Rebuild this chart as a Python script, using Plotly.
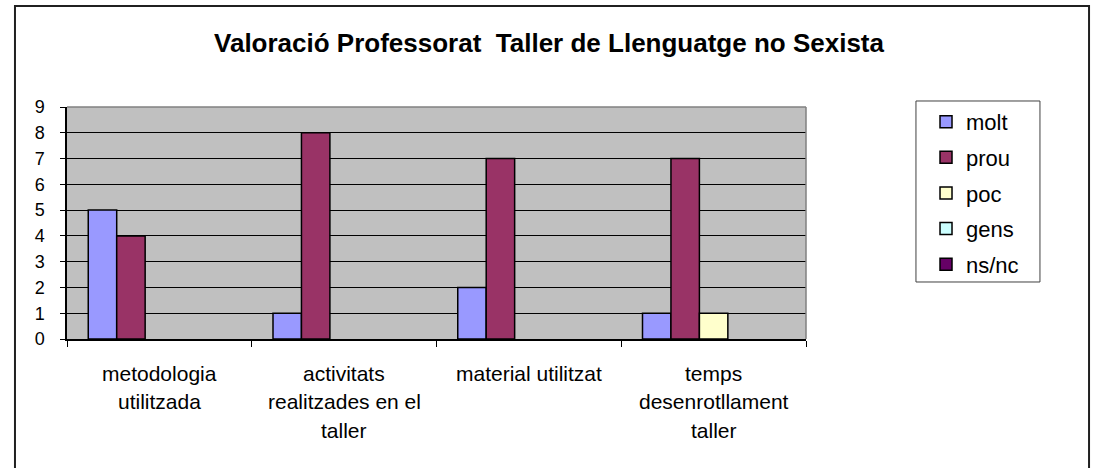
import plotly.graph_objects as go

# chart data
categories = ["metodologia utilitzada", "activitats realitzades en el taller",
              "material utilitzat", "temps desenrotllament taller"]
category_lines = [["metodologia", "utilitzada"],
                  ["activitats", "realitzades en el", "taller"],
                  ["material utilitzat"],
                  ["temps", "desenrotllament", "taller"]]
series_names = ["molt", "prou", "poc", "gens", "ns/nc"]
molt = [5, 1, 2, 1]
prou = [4, 8, 7, 7]
poc = [0, 0, 0, 1]
gens = [0, 0, 0, 0]
ns_nc = [0, 0, 0, 0]
series_values = [molt, prou, poc, gens, ns_nc]
series_colors = ["#9999FF", "#993366", "#FFFFCC", "#CCFFFF", "#660066"]
y_ticks = list(range(0, 10))

FONT = "Liberation Sans, Arial, sans-serif"

fig = go.Figure()

for name, vals, color in zip(series_names, series_values, series_colors):
    # bars: no outline on empty bars, like Excel
    fig.add_trace(go.Bar(
        x=categories,
        y=vals,
        name=name,
        legendgroup=name,
        offsetgroup=name,
        showlegend=False,
        marker=dict(color=color,
                    line=dict(color="black", width=[1.5 if v else 0 for v in vals])),
    ))
    # legend entry with the outlined swatch
    fig.add_trace(go.Bar(
        x=[categories[0]],
        y=[None],
        name=name,
        legendgroup=name,
        offsetgroup=name,
        hoverinfo="skip",
        marker=dict(color=color, line=dict(color="black", width=1.5)),
    ))

# category labels, one line at a time (Excel-like line spacing)
for cat, lines in zip(categories, category_lines):
    for k, line in enumerate(lines):
        fig.add_annotation(
            x=cat, xref="x", y=0, yref="paper",
            text=line, showarrow=False,
            yanchor="middle", xanchor="center",
            yshift=-34 - k * 28.5,
            font=dict(family=FONT, size=21, color="black"),
        )

# plot area top/right border (grey)
fig.add_shape(type="line", xref="paper", yref="paper", x0=0, x1=1, y0=1, y1=1,
              line=dict(color="#808080", width=1.5))
fig.add_shape(type="line", xref="paper", yref="paper", x0=1, x1=1, y0=0, y1=1,
              line=dict(color="#808080", width=1.5))
# legend box
fig.add_shape(type="rect", xref="paper", yref="paper",
              x0=1.1488, x1=1.3166, y0=0.2457, y1=1.0259,
              line=dict(color="#404040", width=1))
# outer chart frame
fig.add_shape(type="rect", xref="paper", yref="paper",
              x0=-0.0704, x1=1.383, y0=-0.65, y1=1.435,
              line=dict(color="#202020", width=2))

fig.update_layout(
    title=dict(
        text="<b>Valoració Professorat  Taller de Llenguatge no Sexista</b>",
        x=549 / 1097, xref="container", xanchor="center",
        y=1 - 43 / 468, yref="container", yanchor="middle",
        font=dict(family=FONT, size=26, color="black"),
    ),
    width=1097,
    height=468,
    margin=dict(l=67, r=291, t=107, b=129),
    paper_bgcolor="white",
    plot_bgcolor="#C0C0C0",
    barmode="group",
    bargap=0.23,
    bargroupgap=0,
    font=dict(family=FONT, size=18, color="black"),
    legend=dict(
        x=1.1624, xanchor="left", y=1.026, yanchor="top",
        borderwidth=0, bgcolor="rgba(0,0,0,0)",
        font=dict(family=FONT, size=22, color="black"),
        tracegroupgap=4,
        itemwidth=30,
    ),
    showlegend=True,
)

fig.update_xaxes(
    showticklabels=False,
    showline=True, linecolor="black", linewidth=1.5,
    ticks="outside", tickson="boundaries", ticklen=6, tickcolor="black", tickwidth=1,
    showgrid=False,
)
fig.update_yaxes(
    range=[0, 9],
    tickvals=y_ticks,
    showline=True, linecolor="black", linewidth=1.5,
    ticks="outside", ticklen=5, tickcolor="black", tickwidth=1,
    ticklabelstandoff=12,
    showgrid=True, gridcolor="black", gridwidth=1,
    zeroline=False,
    tickfont=dict(family=FONT, size=18, color="black"),
)

# drop the browser's default 8px body margin so the figure sits at the page corner
fig.write_html("out.html", config={"displayModeBar": False},
               post_script="document.body.style.margin = '0';")
